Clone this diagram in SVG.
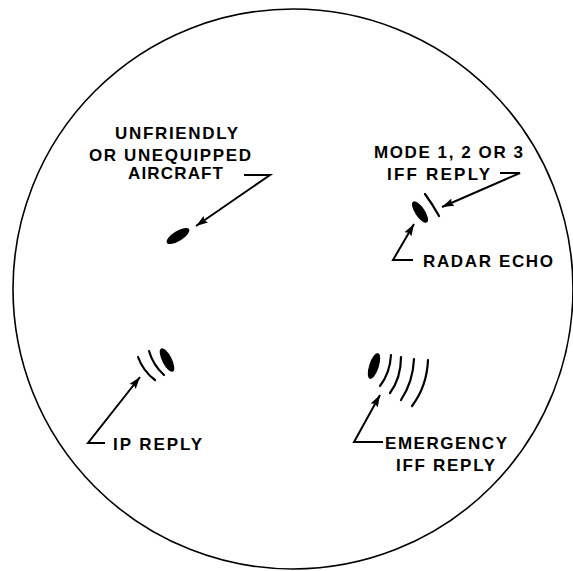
<svg xmlns="http://www.w3.org/2000/svg" width="573" height="571" viewBox="0 0 573 571">
<defs>
<style>
.lbl{font-family:"Liberation Sans",Arial,sans-serif;font-size:17px;font-weight:bold;fill:#000}
.ld{fill:none;stroke:#000;stroke-width:2;stroke-linejoin:miter}
.arc{fill:none;stroke:#000;stroke-width:2.2;stroke-linecap:round}
.blip{fill:#000}
</style>
<marker id="ah" markerUnits="userSpaceOnUse" markerWidth="14" markerHeight="10" refX="12" refY="4" orient="auto" viewBox="0 0 14 8">
<path d="M0,0 L12,4 L0,8 L2,4 Z" fill="#000"/>
</marker>
</defs>
<rect width="573" height="571" fill="#fff"/>
<circle id="scope" cx="293" cy="289" r="280" fill="none" stroke="#000" stroke-width="1.6"/>

<g id="unfriendly">
<ellipse class="blip" cx="178" cy="236" rx="13" ry="5" transform="rotate(-32 178 236)"/>
<text class="lbl" x="115" y="139" textLength="123" lengthAdjust="spacing">UNFRIENDLY</text>
<text class="lbl" x="89" y="161" textLength="162" lengthAdjust="spacing">OR UNEQUIPPED</text>
<text class="lbl" x="128" y="179" textLength="95" lengthAdjust="spacing">AIRCRAFT</text>
</g>

<g id="mode-reply">
<ellipse class="blip" cx="420" cy="212" rx="12.5" ry="4.8" transform="rotate(56 420 212)"/>
<path class="arc" d="M425,194 Q433,205 439,216"/>
<text class="lbl" x="374" y="158" textLength="149" lengthAdjust="spacing">MODE 1, 2 OR 3</text>
<text class="lbl" x="387" y="180" textLength="103" lengthAdjust="spacing">IFF REPLY</text>
<text class="lbl" x="423" y="267" textLength="130" lengthAdjust="spacing">RADAR ECHO</text>
</g>

<g id="ip-reply">
<ellipse class="blip" cx="167" cy="360" rx="13" ry="4.8" transform="rotate(63 167 360)"/>
<path class="arc" d="M149,351 Q153,365 164,375"/>
<path class="arc" d="M138,357 Q143,371 155,380"/>
<text class="lbl" x="113" y="450" textLength="89" lengthAdjust="spacing">IP REPLY</text>
</g>

<g id="emergency">
<ellipse class="blip" cx="374" cy="366" rx="13.5" ry="4.8" transform="rotate(-72 374 366)"/>
<path class="arc" d="M391,355 Q390,373 380,386"/>
<path class="arc" d="M401,357 Q401,378 390,393"/>
<path class="arc" d="M414,359 Q413,382 401,400"/>
<path class="arc" d="M428,360 Q427,386 412,406"/>
<text class="lbl" x="385" y="449" textLength="122" lengthAdjust="spacing">EMERGENCY</text>
<text class="lbl" x="396" y="471" textLength="99" lengthAdjust="spacing">IFF REPLY</text>
</g>

<g id="connectors">
<polyline class="ld" points="244,175 270,175 196,226" marker-end="url(#ah)"/>
<polyline class="ld" points="500,173 520,173 442,207" marker-end="url(#ah)"/>
<polyline class="ld" points="413,260 393,260 414,224" marker-end="url(#ah)"/>
<polyline class="ld" points="105,443 88,443 140,377" marker-end="url(#ah)"/>
<polyline class="ld" points="383,442 354,442 380,395" marker-end="url(#ah)"/>
</g>
</svg>
